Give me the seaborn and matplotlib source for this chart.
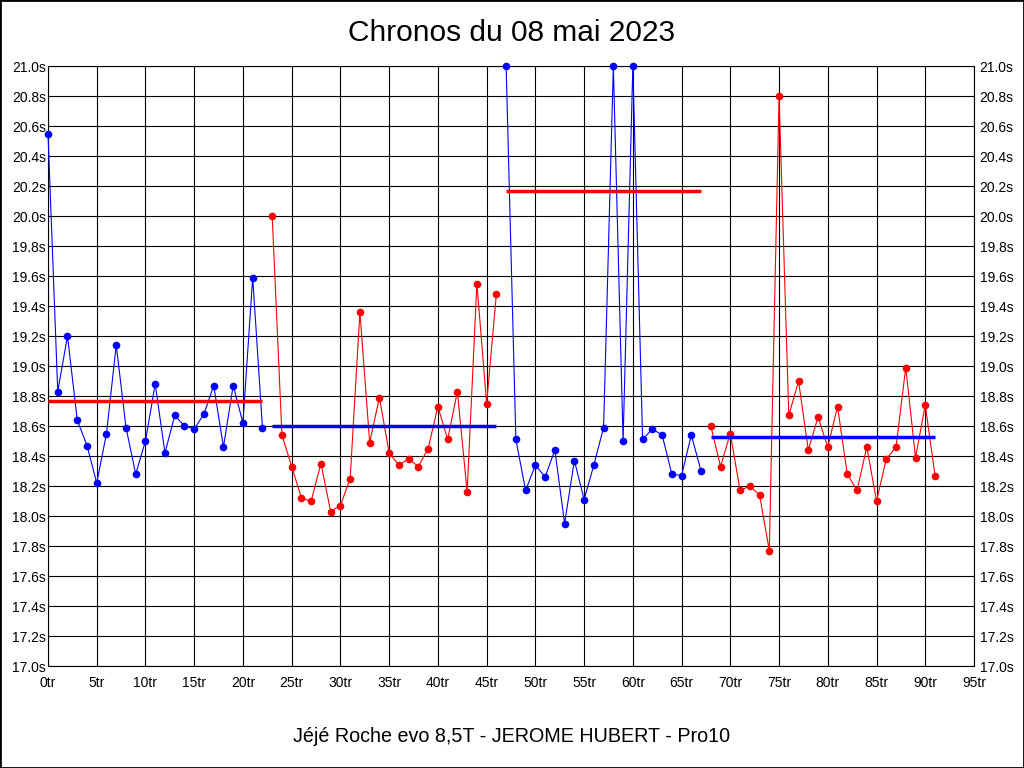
import numpy as np
import pandas as pd
import seaborn as sns
import matplotlib.pyplot as plt
from matplotlib.patches import Rectangle

# ---

# LAP TIMES (seconds); laps drawn at the 21.0s ceiling are clipped

laps = list(range(0, 92))

times = [
    # stint 1 (laps 0-22)
    20.55, 18.83, 19.20, 18.64, 18.47, 18.22, 18.55, 19.14, 18.59, 18.28,
    18.50, 18.88, 18.42, 18.67, 18.60, 18.58, 18.68, 18.87, 18.46, 18.87,
    18.62, 19.59, 18.59,
    # stint 2 (laps 23-46)
    20.00, 18.54, 18.33, 18.12, 18.10, 18.35, 18.03, 18.07, 18.25, 19.36,
    18.49, 18.79, 18.42, 18.34, 18.38, 18.33, 18.45, 18.73, 18.51, 18.83,
    18.16, 19.55, 18.75, 19.48,
    # stint 3 (laps 47-67)
    21.00, 18.51, 18.17, 18.34, 18.26, 18.44, 17.95, 18.37, 18.11, 18.34,
    18.59, 21.00, 18.50, 21.00, 18.51, 18.58, 18.54, 18.28, 18.27, 18.54,
    18.30,
    # stint 4 (laps 68-91)
    18.60, 18.33, 18.55, 18.17, 18.20, 18.14, 17.77, 20.80, 18.67, 18.90,
    18.44, 18.66, 18.46, 18.73, 18.28, 18.17, 18.46, 18.10, 18.38, 18.46,
    18.99, 18.39, 18.74, 18.27,
]

stint_start = [0, 23, 47, 68]
stint_end = [22, 46, 67, 91]
stint_means = [18.77, 18.60, 20.165, 18.53]
stint_colors = ['#0000ff', '#ff0000', '#0000ff', '#ff0000']
mean_colors = ['#ff0000', '#0000ff', '#ff0000', '#0000ff']

y_ticks = [round(17.0 + 0.2 * i, 1) for i in range(21)]
x_ticks = list(range(0, 96, 5))

title = "Chronos du 08 mai 2023"
footer = "Jéjé Roche evo 8,5T - JEROME HUBERT - Pro10"

# ---

# BUILD DATAFRAME

stint = []
for lap in laps:
    for i in range(len(stint_start)):
        if stint_start[i] <= lap <= stint_end[i]:
            stint.append(i)
df = pd.DataFrame({'lap': laps, 'time': times, 'stint': stint})

# ---

# PLOT

sns.set_style("white")
plt.rcParams['font.family'] = ['Liberation Sans', 'DejaVu Sans']

fig = plt.figure(figsize=(10.24, 7.68), dpi=100)
ax = fig.add_axes([48 / 1024, 102 / 768, 926 / 1024, 600 / 768])

sns.lineplot(data=df, x='lap', y='time', hue='stint',
             palette=dict(enumerate(stint_colors)), estimator=None,
             marker='o', markersize=5.5, markeredgewidth=0, linewidth=0.8,
             legend=False, ax=ax, clip_on=False, zorder=3)

for i in range(len(stint_means)):
    ax.plot([stint_start[i], stint_end[i]], [stint_means[i], stint_means[i]],
            color=mean_colors[i], linewidth=2.5, solid_capstyle='butt', zorder=4)

ax.set_xlim(0, 95)
ax.set_ylim(17.0, 21.0)
ax.set_xticks(x_ticks)
ax.set_xticklabels([f"{x}tr" for x in x_ticks])
ax.set_yticks(y_ticks)
ax.set_yticklabels([f"{y:.1f}s" for y in y_ticks])
ax.tick_params(axis='both', length=0, labelsize=10, colors='black')
ax.tick_params(axis='x', pad=7)
ax.tick_params(axis='y', pad=1.5)
ax.grid(True, color='black', linewidth=0.8)
ax.set_xlabel('')
ax.set_ylabel('')
for spine in ax.spines.values():
    spine.set_color('black')
    spine.set_linewidth(0.8)

# right-hand copy of the y labels
ax2 = ax.secondary_yaxis('right')
ax2.set_yticks(y_ticks)
ax2.set_yticklabels([f"{y:.1f}s" for y in y_ticks])
ax2.tick_params(length=0, labelsize=10, colors='black', pad=4)
ax2.spines['right'].set_visible(False)

fig.text(0.5, 1 - 33 / 768, title, ha='center', va='center',
         fontsize=21.5, color='black')
fig.text(0.5, 1 - 737 / 768, footer, ha='center', va='center',
         fontsize=14.2, color='black')

fig.patches.append(Rectangle((0, 0), 1, 1, transform=fig.transFigure,
                             fill=False, edgecolor='black', linewidth=2))

fig.savefig('out.png', dpi=100, facecolor='white')
